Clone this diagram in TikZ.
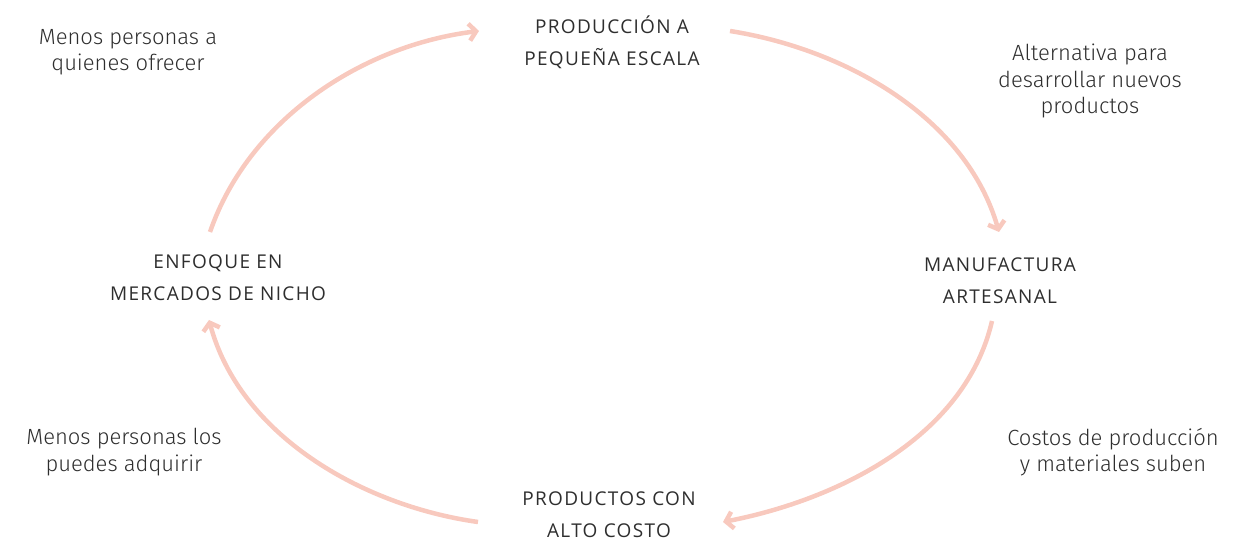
\documentclass[tikz,border=0pt]{standalone}
\usepackage{fontspec}
\setmainfont{Fira Sans Light}
\newfontfamily\capsfont{Open Sans}[LetterSpace=7]
\usetikzlibrary{arrows.meta}

\definecolor{salmon}{HTML}{F8C9BE}
\definecolor{ink}{HTML}{2E2E2E}

\begin{document}
\begin{tikzpicture}[x=1pt,y=1pt,
  stage/.style={font=\capsfont\fontsize{19}{32}\selectfont, text=ink, align=center, inner sep=0pt},
  note/.style={font=\fontsize{22}{26.5}\selectfont, text=ink, align=center, inner sep=0pt},
  flow/.style={draw=salmon, line width=4.5pt, looseness=0.9,
    -{Straight Barb[length=7pt,width=17pt]}}]
\useasboundingbox (0,0) rectangle (1235,543);

% the four stages of the cycle
\node[stage] (produccion) at (612,501) {PRODUCCIÓN A\\PEQUEÑA ESCALA};
\node[stage] (manufactura) at (1000,262) {MANUFACTURA\\ARTESANAL};
\node[stage] (productos) at (609,28) {PRODUCTOS CON\\ALTO COSTO};
\node[stage] (enfoque) at (218,265) {ENFOQUE EN\\MERCADOS DE NICHO};

% side notes
\node[note] (ofrecer) at (128,491) {Menos personas a\\quienes ofrecer};
\node[note] (alternativa) at (1090,462) {Alternativa para\\desarrollar nuevos\\productos};
\node[note] (costos) at (1113,91) {Costos de producción\\y materiales suben};
\node[note] (adquirir) at (124,91) {Menos personas los\\puedes adquirir};

% arrows round the cycle
\draw[flow] ([shift={(-8,46)}]enfoque.center) to[out=71,in=187]
  ([shift={(-133,11)}]produccion.center);
\draw[flow] ([shift={(118,11)}]produccion.center) to[out=-9,in=106]
  ([shift={(-1,49)}]manufactura.center);
\draw[flow] ([shift={(-8,-40)}]manufactura.center) to[out=257,in=11]
  ([shift={(114,-7)}]productos.center);
\draw[flow] ([shift={(-131,-7)}]productos.center) to[out=172,in=285]
  ([shift={(-9,-42)}]enfoque.center);
\end{tikzpicture}
\end{document}
